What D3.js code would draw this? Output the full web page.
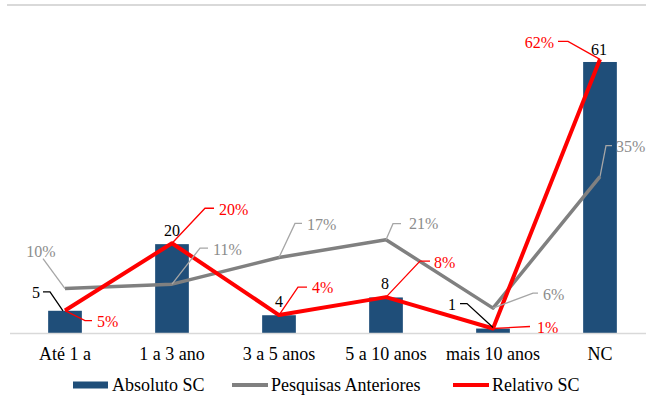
<!DOCTYPE html>
<html><head><meta charset="utf-8">
<script src="https://cdn.jsdelivr.net/npm/d3@7"></script>
<style>body{margin:0;background:#fff}svg{display:block}</style>
</head><body>
<script>
const categories = ["Até 1 a", "1 a 3 ano", "3 a 5 anos", "5 a 10 anos", "mais 10 anos", "NC"];
const absolutoSC = [5, 20, 4, 8, 1, 61];
const pesquisasAnteriores = [10, 11, 17, 21, 5.6, 35.2];
const relativoSC = [5.05, 20.2, 4.04, 8.08, 1.01, 61.6];
const seriesNames = ["Absoluto SC", "Pesquisas Anteriores", "Relativo SC"];

// label placement (leader elbow offsets & text offsets, relative to the point)
const absLabelPos = [
  {lead:[[-2,0],[-15,-19],[-22,-19]], t:[-25,-18], a:"end"},
  {t:[0,-14], a:"middle"},
  {t:[0,-14], a:"middle"},
  {t:[-1,-14], a:"middle"},
  {lead:[[0,-1],[-26,-25],[-33,-25]], t:[-37,-24], a:"end"},
  {t:[-1,-13], a:"middle"}
];
const grayLabelPos = [
  {lead:[[0,0],[-22,-30]], t:[-24,-37], a:"middle"},
  {lead:[[0,0],[28,-36],[36,-36]], t:[41,-35], a:"start"},
  {lead:[[0,0],[16,-34],[23,-34]], t:[28,-33], a:"start"},
  {lead:[[0,0],[7,-16],[15,-16]], t:[23,-16], a:"start"},
  {lead:[[0,0],[40,-15],[45,-15]], t:[50,-14], a:"start"},
  {lead:[[0,0],[6,-31],[12,-31]], t:[16,-30], a:"start"}
];
const redLabelPos = [
  {lead:[[0,0],[20,10],[27,10]], t:[32,11], a:"start"},
  {lead:[[0,0],[33,-35],[42,-35]], t:[47,-34], a:"start"},
  {lead:[[0,0],[19,-28],[28,-28]], t:[33,-28], a:"start"},
  {lead:[[0,0],[34,-36],[44,-36]], t:[48,-35], a:"start"},
  {lead:[[0,0],[37,-2]], t:[44,-1], a:"start"},
  {lead:[[0,0],[-32,-18],[-42,-18]], t:[-46,-17], a:"end"}
];

const W = 646, H = 401;
const BLUE = "#1F4E79", GRAY = "#808080", RED = "#FF0000";
const FONT = "Liberation Serif, Tinos, Times New Roman, Times, DejaVu Serif, Noto Serif, serif";

const svg = d3.select("body").append("svg").attr("width", W).attr("height", H)
  .attr("font-family", FONT);

// top border line (chart frame remnant)
svg.append("line").attr("x1", 7).attr("x2", W).attr("y1", 5).attr("y2", 5)
  .attr("stroke", "#d9d9d9").attr("stroke-width", 2);

const x = d3.scaleBand().domain(categories).range([11.5, 653.5]).paddingInner(0.685).paddingOuter(0.3425);
const y = d3.scaleLinear().domain([0, 70]).range([333, 22]);
const cx = c => x(c) + x.bandwidth() / 2;

// bars
svg.append("g").selectAll("rect").data(absolutoSC).join("rect")
  .attr("x", (d, i) => x(categories[i]))
  .attr("width", x.bandwidth())
  .attr("y", d => y(d))
  .attr("height", d => y(0) - y(d))
  .attr("fill", BLUE);

// x axis
const ax = svg.append("g").attr("transform", `translate(0,${y(0)})`)
  .call(d3.axisBottom(x).tickSize(0).tickPadding(14));
ax.attr("font-family", FONT).attr("font-size", 18);
ax.select(".domain").attr("stroke", "#d9d9d9").attr("stroke-width", 1.5)
  .attr("d", `M10,0.5H${W}`);
ax.selectAll("text").attr("fill", "#000");

const line = d3.line().x((d, i) => cx(categories[i])).y(d => y(d));

svg.append("path").datum(pesquisasAnteriores).attr("d", line)
  .attr("fill", "none").attr("stroke", GRAY).attr("stroke-width", 3.5).attr("stroke-linejoin", "round");
svg.append("path").datum(relativoSC).attr("d", line)
  .attr("fill", "none").attr("stroke", RED).attr("stroke-width", 4).attr("stroke-linejoin", "round");

function labels(vals, pos, fmt, textColor, leadColor) {
  const g = svg.append("g");
  vals.forEach((v, i) => {
    const px = cx(categories[i]), py = y(v), p = pos[i];
    if (p.lead) {
      g.append("polyline")
        .attr("points", p.lead.map(q => `${px + q[0]},${py + q[1]}`).join(" "))
        .attr("fill", "none").attr("stroke", leadColor).attr("stroke-width", 1.3);
    }
    g.append("text").attr("x", px + p.t[0]).attr("y", py + p.t[1]).attr("dy", "0.35em")
      .attr("text-anchor", p.a).attr("font-size", 16).attr("fill", textColor)
      .text(fmt(v));
  });
}
labels(absolutoSC, absLabelPos, d => d3.format("d")(d), "#000", "#000");
labels(pesquisasAnteriores, grayLabelPos, d => Math.round(d) + "%", "#8c8c8c", "#a6a6a6");
labels(relativoSC, redLabelPos, d => Math.round(d) + "%", RED, RED);

// legend
const legY = 385;
const leg = svg.append("g").attr("font-size", 18);
leg.append("rect").attr("x", 73).attr("y", legY - 3.5).attr("width", 35).attr("height", 7).attr("fill", BLUE);
leg.append("text").attr("x", 112).attr("y", legY).attr("dy", "0.35em").text(seriesNames[0]);
leg.append("line").attr("x1", 232).attr("x2", 268).attr("y1", legY).attr("y2", legY).attr("stroke", GRAY).attr("stroke-width", 4);
leg.append("text").attr("x", 271).attr("y", legY).attr("dy", "0.35em").text(seriesNames[1]);
leg.append("line").attr("x1", 453).attr("x2", 489).attr("y1", legY).attr("y2", legY).attr("stroke", RED).attr("stroke-width", 4);
leg.append("text").attr("x", 492).attr("y", legY).attr("dy", "0.35em").text(seriesNames[2]);
</script>
</body></html>
